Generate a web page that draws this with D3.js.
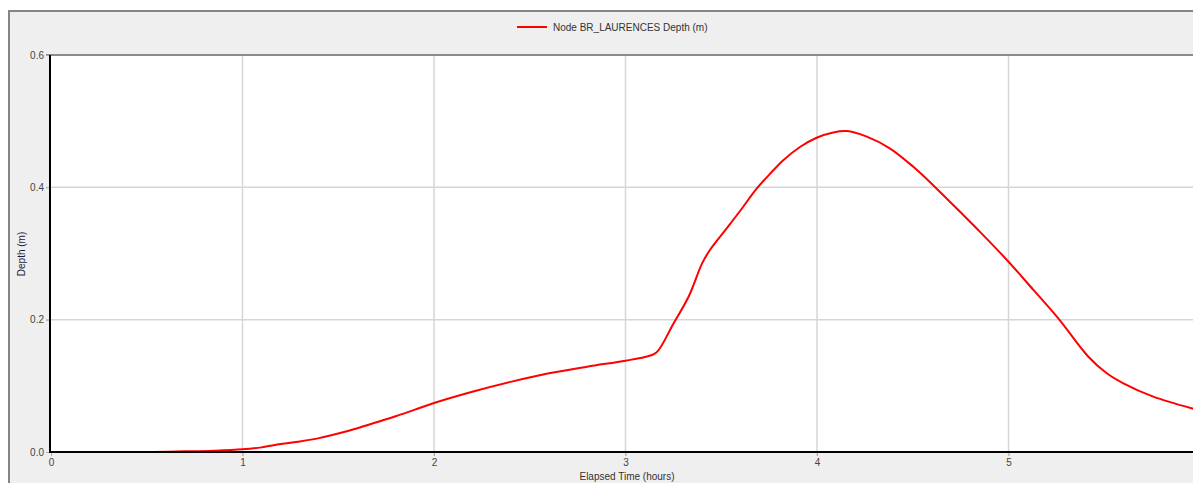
<!DOCTYPE html>
<html>
<head>
<meta charset="utf-8">
<script src="https://cdn.jsdelivr.net/npm/d3@7/dist/d3.min.js"></script>
<style>
html,body{margin:0;padding:0;background:#fff;overflow:hidden;}
text{font-family:"Liberation Sans",Arial,sans-serif;}
</style>
</head>
<body>
<svg id="chart" width="1193" height="483"></svg>
<script>
const seriesName = "Node BR_LAURENCES Depth (m)";
const xTitle = "Elapsed Time (hours)";
const yTitle = "Depth (m)";
const xTicks = [0, 1, 2, 3, 4, 5];
const yTicks = [0.0, 0.2, 0.4, 0.6];
const timeHours = [0, 0.5, 0.7, 0.85, 1.0, 1.1, 1.2, 1.3, 1.4, 1.5, 1.6, 1.7, 1.8, 1.9, 2.0, 2.2, 2.4, 2.6, 2.8, 3.0, 3.1, 3.16,
  3.25, 3.33, 3.40, 3.44, 3.52, 3.6, 3.685, 3.76, 3.824, 3.911, 3.998, 4.085, 4.155, 4.26, 4.38, 4.503, 4.625, 4.747, 4.85,
  5.0, 5.13, 5.26, 5.417, 5.513, 5.6, 5.756, 5.957, 6.0];
const depthM = [0, 0, 0.001, 0.002, 0.004, 0.007, 0.012, 0.016, 0.021, 0.028, 0.036, 0.045, 0.054, 0.064, 0.074, 0.091, 0.106, 0.119, 0.129, 0.138, 0.1436, 0.150,
  0.194, 0.235, 0.285, 0.305, 0.335, 0.365, 0.398, 0.422, 0.441, 0.461, 0.475, 0.483, 0.485, 0.4766, 0.459, 0.431, 0.398, 0.363, 0.333,
  0.2876, 0.245, 0.202, 0.144, 0.119, 0.1038, 0.0836, 0.066, 0.063];

(function () {
const svg = d3.select("#chart");
const W = 1193, H = 483;
const pL = 50, pT = 55, pB = 452, pR = 1200;

// outer panel
svg.append("rect").attr("x", 9).attr("y", 11).attr("width", W + 20).attr("height", H + 20)
  .attr("fill", "#efefef").attr("stroke", "#858585").attr("stroke-width", 2);

// plot area
svg.append("rect").attr("x", pL).attr("y", pT).attr("width", pR - pL).attr("height", pB - pT)
  .attr("fill", "#fff");

const x = d3.scaleLinear().domain([0, 6]).range([pL + 1, 1200]);
const y = d3.scaleLinear().domain([0, 0.6]).range([pB, pT]);

// grid
svg.append("g").selectAll("line").data(xTicks.filter(d => d > 0)).join("line")
  .attr("x1", d => x(d)).attr("x2", d => x(d)).attr("y1", pT).attr("y2", pB + 4)
  .attr("stroke", "#d6d6d6").attr("stroke-width", 1.5);
svg.append("g").selectAll("line").data(yTicks.filter(d => d > 0 && d < 0.6)).join("line")
  .attr("x1", pL - 4).attr("x2", pR).attr("y1", d => y(d)).attr("y2", d => y(d))
  .attr("stroke", "#d6d6d6").attr("stroke-width", 1.5);

// top border of plot
svg.append("line").attr("x1", pL - 4).attr("x2", pR).attr("y1", pT).attr("y2", pT)
  .attr("stroke", "#8a8a8a").attr("stroke-width", 2);

// axes via d3
const xAxis = svg.append("g").attr("transform", `translate(0,${pB})`)
  .call(d3.axisBottom(x).tickValues(xTicks).tickFormat(d3.format("d")).tickSize(4).tickPadding(3));
xAxis.select(".domain").remove();
xAxis.selectAll(".tick line").attr("stroke", "#aaa");
xAxis.selectAll(".tick text").attr("fill", "#444").attr("font-size", 10)
  .attr("font-family", "'Liberation Sans', Arial, sans-serif");

const yAxis = svg.append("g").attr("transform", `translate(${pL},0)`)
  .call(d3.axisLeft(y).tickValues(yTicks).tickFormat(d3.format(".1f")).tickSize(4).tickPadding(2));
yAxis.select(".domain").remove();
yAxis.selectAll(".tick line").attr("stroke", "#aaa");
yAxis.selectAll(".tick text").attr("fill", "#444").attr("font-size", 10)
  .attr("font-family", "'Liberation Sans', Arial, sans-serif");

// series line
const line = d3.line().x((d, i) => x(timeHours[i])).y(d => y(d)).curve(d3.curveCatmullRom.alpha(0.5));
svg.append("path").datum(depthM).attr("d", line)
  .attr("fill", "none").attr("stroke", "#ff0000").attr("stroke-width", 2);

// axis lines
svg.append("line").attr("x1", pL).attr("x2", pL).attr("y1", pT).attr("y2", pB + 1)
  .attr("stroke", "#000").attr("stroke-width", 2);
svg.append("line").attr("x1", pL).attr("x2", pR).attr("y1", pB).attr("y2", pB)
  .attr("stroke", "#000").attr("stroke-width", 2);

// titles
svg.append("text").attr("x", 627).attr("y", 480).attr("text-anchor", "middle")
  .attr("font-size", 10).attr("fill", "#333").text(xTitle);
svg.append("text").attr("transform", "translate(25,254) rotate(-90)").attr("text-anchor", "middle")
  .attr("font-size", 10).attr("fill", "#1c1c40").text(yTitle);

// legend
svg.append("line").attr("x1", 517).attr("x2", 547).attr("y1", 27).attr("y2", 27)
  .attr("stroke", "#ff0000").attr("stroke-width", 2);
svg.append("text").attr("x", 553).attr("y", 30.5).attr("font-size", 10).attr("fill", "#333").text(seriesName);
})();
</script>
</body>
</html>
